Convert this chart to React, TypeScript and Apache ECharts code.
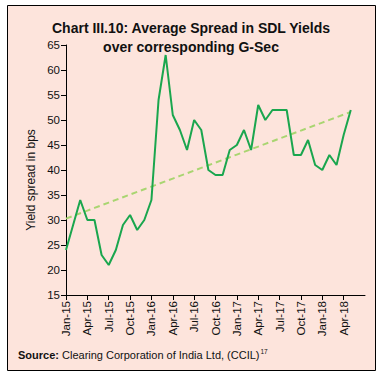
import React, { useEffect, useRef } from "react";
import * as echarts from "echarts";

const months = [
  "Jan-15","Feb-15","Mar-15","Apr-15","May-15","Jun-15","Jul-15","Aug-15","Sep-15","Oct-15","Nov-15","Dec-15",
  "Jan-16","Feb-16","Mar-16","Apr-16","May-16","Jun-16","Jul-16","Aug-16","Sep-16","Oct-16","Nov-16","Dec-16",
  "Jan-17","Feb-17","Mar-17","Apr-17","May-17","Jun-17","Jul-17","Aug-17","Sep-17","Oct-17","Nov-17","Dec-17",
  "Jan-18","Feb-18","Mar-18","Apr-18","May-18","Jun-18","Jul-18",
];

const spread = [
  24, 29, 34, 30, 30, 23, 21, 24, 29, 31, 28, 30,
  34, 54, 63, 51, 48, 44, 50, 48, 40, 39, 39, 44,
  45, 48, 44, 53, 50, 52, 52, 52, 43, 43, 46, 41,
  40, 43, 41, 47, 52,
];

const yTicks = { min: 15, max: 65, interval: 5 };

const titleText = "Chart III.10: Average Spread in SDL Yields\nover corresponding G-Sec";
const yAxisName = "Yield spread in bps";
const sourceText = "Clearing Corporation of India Ltd, (CCIL)";

function linearTrend(values: number[]): number[] {
  const n = values.length;
  const mx = (n - 1) / 2;
  const my = values.reduce((a, b) => a + b, 0) / n;
  let sxy = 0;
  let sxx = 0;
  values.forEach((v, i) => {
    sxy += (i - mx) * (v - my);
    sxx += (i - mx) * (i - mx);
  });
  const slope = sxy / sxx;
  return values.map((_, i) => my + slope * (i - mx));
}

export default function App() {
  const ref = useRef<HTMLDivElement>(null);
  useEffect(() => {
    if (!ref.current) return;
    const chart = echarts.init(ref.current, undefined, { renderer: "svg" });
    const trend = linearTrend(spread);
    const font = "'Liberation Sans', Arial, sans-serif";
    const showQuarter = (i: number) => i % 3 === 0 && i < spread.length;
    chart.setOption({
      animation: false,
      backgroundColor: "#ffffff",
      textStyle: { fontFamily: font },
      graphic: [
        {
          type: "rect",
          z: -10,
          silent: true,
          shape: { x: 7.5, y: 5.5, width: 368, height: 365 },
          style: { fill: "#fde4dc", stroke: "#000000", lineWidth: 1 },
        },
        {
          type: "text",
          x: 31,
          y: 180,
          rotation: Math.PI / 2,
          style: {
            text: yAxisName,
            fontSize: 12,
            fontFamily: font,
            fill: "#111111",
            align: "center",
            verticalAlign: "middle",
          },
        },
        {
          type: "text",
          x: 18,
          y: 355,
          style: {
            text: "{b|Source:} " + sourceText + "{s|17}",
            fontSize: 11,
            fontFamily: font,
            fill: "#111111",
            verticalAlign: "middle",
            rich: {
              b: { fontWeight: "bold", fontSize: 11, fontFamily: font, fill: "#111111" },
              s: { fontSize: 6.5, fontFamily: font, fill: "#111111", verticalAlign: "top", padding: [0, 0, 7, 1] },
            },
          },
        },
      ],
      title: {
        text: titleText,
        left: "center",
        top: 13,
        textStyle: {
          fontSize: 14,
          fontWeight: "bold",
          fontFamily: font,
          color: "#111111",
          lineHeight: 19,
        },
      },
      grid: { left: 66, right: 17, top: 45, bottom: 84, containLabel: false },
      xAxis: {
        type: "category",
        data: months,
        boundaryGap: false,
        axisLine: { lineStyle: { color: "#000000", width: 1 } },
        axisTick: { interval: (i: number) => showQuarter(i), length: 5, lineStyle: { color: "#000000" } },
        axisLabel: {
          interval: (i: number) => showQuarter(i),
          rotate: 90,
          fontSize: 11.5,
          color: "#111111",
          margin: 6,
          fontFamily: font,
        },
        splitLine: { show: false },
      },
      yAxis: {
        type: "value",
        min: yTicks.min,
        max: yTicks.max,
        interval: yTicks.interval,
        axisLine: { show: true, lineStyle: { color: "#000000", width: 1 } },
        axisTick: { show: true, length: 5, lineStyle: { color: "#000000" } },
        axisLabel: { fontSize: 11.5, color: "#111111", margin: 6, fontFamily: font },
        splitLine: { show: false },
      },
      series: [
        {
          type: "line",
          name: "Trend",
          data: trend,
          showSymbol: false,
          symbol: "none",
          lineStyle: { color: "#a9d571", width: 2, type: [6, 4] },
          z: 1,
        },
        {
          type: "line",
          name: "Spread",
          data: spread,
          showSymbol: false,
          symbol: "none",
          lineStyle: { color: "#1aa64e", width: 2 },
          z: 2,
        },
      ],
    });
    return () => chart.dispose();
  }, []);
  return (
    <div
      ref={ref}
      style={{ position: "absolute", left: 0, top: 0, width: 382, height: 379 }}
    />
  );
}
